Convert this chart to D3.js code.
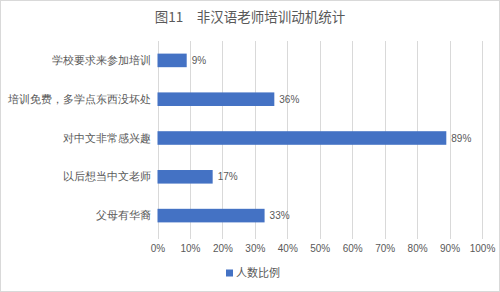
<!DOCTYPE html>
<html>
<head>
<meta charset="utf-8">
<script src="https://cdn.jsdelivr.net/npm/d3@7"></script>
<style>
  body { margin: 0; background: #fff; }
  svg { display: block; font-family: "Noto Sans CJK SC", "DejaVu Sans", sans-serif; }
</style>
</head>
<body>
<svg id="chart" width="500" height="292"></svg>
<script>
const categories = ["学校要求来参加培训", "培训免费，多学点东西没坏处", "对中文非常感兴趣", "以后想当中文老师", "父母有华裔"];
const values = [0.09, 0.36, 0.89, 0.17, 0.33];
const tickValues = [0, 0.1, 0.2, 0.3, 0.4, 0.5, 0.6, 0.7, 0.8, 0.9, 1.0];
const seriesName = "人数比例";
const title = "图11\u3000非汉语老师培训动机统计";

const svg = d3.select("#chart");
const W = 500, H = 292;
const margin = { top: 41, right: 18, bottom: 57, left: 157.5 };
const textColor = "#595959";
const barColor = "#4472C4";

svg.append("rect")
  .attr("x", 0.5).attr("y", 0.5)
  .attr("width", W - 1).attr("height", H - 1)
  .attr("fill", "#fff").attr("stroke", "#d9d9d9");

const x = d3.scaleLinear().domain([0, 1]).range([margin.left, 482]);
const y = d3.scaleBand().domain(categories).range([margin.top, H - margin.bottom]).paddingInner(0.65).paddingOuter(0.325);

svg.append("text")
  .attr("x", W / 2).attr("y", 22)
  .attr("text-anchor", "middle")
  .attr("font-size", 13.5)
  .attr("fill", textColor)
  .text(title);

// gridlines
svg.append("g")
  .selectAll("line")
  .data(tickValues)
  .join("line")
  .attr("x1", d => Math.round(x(d)) + 0.5)
  .attr("x2", d => Math.round(x(d)) + 0.5)
  .attr("y1", margin.top)
  .attr("y2", H - margin.bottom + 4)
  .attr("stroke", "#d9d9d9");

// x axis labels
const xAxis = d3.axisBottom(x)
  .tickValues(tickValues)
  .tickFormat(d3.format(".0%"))
  .tickSize(0)
  .tickPadding(10);
const gx = svg.append("g")
  .attr("transform", `translate(0,${H - margin.bottom})`)
  .call(xAxis);
gx.select(".domain").remove();
gx.selectAll("text")
  .attr("font-size", 10)
  .attr("fill", textColor)
  .attr("font-family", "'Liberation Sans', Arial, sans-serif");

// category labels
const yAxis = d3.axisLeft(y).tickSize(0).tickPadding(7);
const gy = svg.append("g")
  .attr("transform", `translate(${margin.left},0)`)
  .call(yAxis);
gy.select(".domain").remove();
gy.selectAll("text")
  .attr("font-size", 11)
  .attr("fill", textColor);

// bars
svg.append("g")
  .selectAll("rect")
  .data(categories)
  .join("rect")
  .attr("x", x(0))
  .attr("y", d => y(d))
  .attr("width", (d, i) => x(values[i]) - x(0))
  .attr("height", y.bandwidth())
  .attr("fill", barColor);

// value labels
svg.append("g")
  .selectAll("text")
  .data(categories)
  .join("text")
  .attr("x", (d, i) => x(values[i]) + 5)
  .attr("y", d => y(d) + y.bandwidth() / 2)
  .attr("dy", "0.35em")
  .attr("font-size", 10)
  .attr("fill", textColor)
  .attr("font-family", "'Liberation Sans', Arial, sans-serif")
  .text((d, i) => d3.format(".0%")(values[i]));

// legend
const lg = svg.append("g").attr("transform", "translate(226,273)");
lg.append("rect")
  .attr("x", 0).attr("y", -3.5)
  .attr("width", 7).attr("height", 7)
  .attr("fill", barColor);
lg.append("text")
  .attr("x", 10).attr("y", 0)
  .attr("dy", "0.35em")
  .attr("font-size", 11)
  .attr("fill", textColor)
  .text(seriesName);
</script>
</body>
</html>
